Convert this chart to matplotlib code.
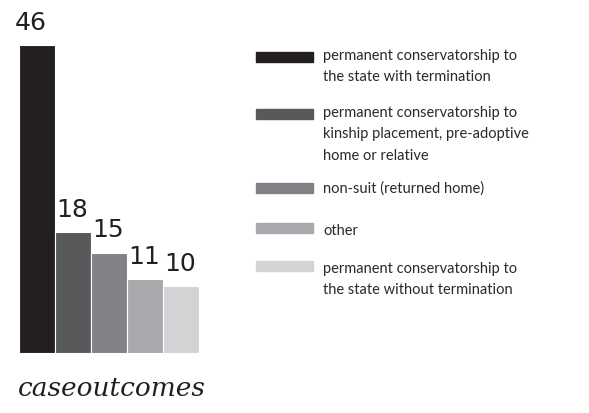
import matplotlib
matplotlib.use("Agg")
import matplotlib.pyplot as plt
from matplotlib.patches import Rectangle

categories = [
    "permanent conservatorship to\nthe state with termination",
    "permanent conservatorship to\nkinship placement, pre-adoptive\nhome or relative",
    "non-suit (returned home)",
    "other",
    "permanent conservatorship to\nthe state without termination",
]
values = [46, 18, 15, 11, 10]
colors = ["#231f20", "#58595b", "#808285", "#a7a9ac", "#d1d3d4"]
title = "caseoutcomes"

W, H = 589, 413
fig = plt.figure(figsize=(W / 100, H / 100), dpi=100)
fig.patch.set_facecolor("white")

# bar axes: x 19..199 px, y bottom 353 px, top of max value at 45 px
ax = fig.add_axes([19 / W, (H - 353) / H, 180 / W, 308 / H])
x = list(range(len(values)))
ax.bar(x, values, width=1.0, color=colors, edgecolor="white", linewidth=0.8, align="edge")
ax.set_xlim(0, len(values))
ax.set_ylim(0, max(values))
ax.axis("off")
for xi, v in zip(x, values):
    ax.annotate(str(v), xy=(xi, v), xytext=(-3 if xi == 0 else 1, 11),
                textcoords="offset points", ha="left", va="baseline",
                fontsize=18, family="DejaVu Sans", color="#231f20",
                annotation_clip=False)

# legend
swatch_y = [57, 114, 188, 228, 266]
text_top = [49, 106, 181, 224, 262]
for c, lab, sy, ty in zip(colors, categories, swatch_y, text_top):
    fig.patches.append(Rectangle((256 / W, 1 - (sy + 5) / H), 57 / W, 10 / H,
                                 transform=fig.transFigure, color=c))
    fig.text(323 / W, 1 - ty / H, lab, ha="left", va="top",
             fontsize=10.5, family="Lato", color="#2b2829", linespacing=1.68)

fig.text(18 / W, 1 - 396 / H, title, ha="left", va="baseline",
         fontsize=19, family="DejaVu Serif", style="italic", color="#231f20")

fig.savefig("out.png", dpi=100, facecolor="white")
